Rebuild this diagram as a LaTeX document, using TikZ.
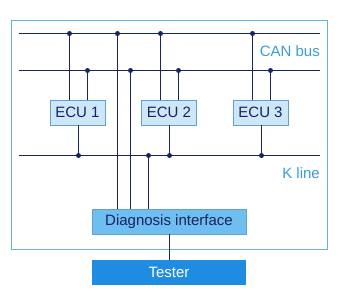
\documentclass[tikz,border=0pt]{standalone}
\usepackage{fontspec}
\setmainfont{Liberation Sans}
\definecolor{navy}{RGB}{25,35,95}
\definecolor{framec}{RGB}{95,180,235}
\definecolor{labc}{RGB}{60,155,215}
\definecolor{ecufill}{RGB}{205,230,248}
\definecolor{ecudraw}{RGB}{100,160,210}
\definecolor{diagfill}{RGB}{110,190,240}
\definecolor{testfill}{RGB}{30,140,225}
\begin{document}
\begin{tikzpicture}[x=1pt,y=-1pt,
  wire/.style={navy,line width=1.4pt},
  dotc/.style={circle,fill=navy,inner sep=0pt,minimum size=5pt},
  ecu/.style={draw=ecudraw,fill=ecufill,line width=0.9pt,minimum width=55pt,minimum height=25pt,inner sep=0pt,font=\fontsize{15}{17}\selectfont,text=navy},
  lab/.style={text=labc,font=\fontsize{15}{17}\selectfont,anchor=east,inner sep=0pt}]
\useasboundingbox (0,0) rectangle (339,304);
\draw[framec,line width=1.5pt] (11.5,20.5) rectangle (327.5,249.5);
% buses
\coordinate (ch0) at (19,33.5); \coordinate (ch1) at (320,33.5);
\coordinate (cl0) at (19,70.5); \coordinate (cl1) at (320,70.5);
\coordinate (k0) at (19,155.5); \coordinate (k1) at (320,155.5);
\draw[wire] (ch0) -- (ch1);
\draw[wire] (cl0) -- (cl1);
\draw[wire] (k0) -- (k1);
\node[lab] (canlab) at (320,51) {CAN bus};
\node[lab] (klab) at (320,173) {K line};
% ECUs
\node[ecu] (e1) at (77.5,112.5) {ECU 1};
\node[ecu] (e2) at (169,112.5) {ECU 2};
\node[ecu] (e3) at (260.5,112.5) {ECU 3};
\node[draw=ecudraw,fill=diagfill,line width=0.9pt,minimum width=154pt,minimum height=25pt,inner sep=0pt,font=\fontsize{15}{17}\selectfont,text=navy] (diag) at (169,221.5) {Diagnosis interface};
\node[fill=testfill,minimum width=154pt,minimum height=25pt,inner sep=0pt,font=\fontsize{15}{17}\selectfont,text=white] (test) at (169,272.5) {Tester};
% dots
\foreach \n/\x/\y in {a1/69.5/33.5,a2/117.5/33.5,a3/160.5/33.5,a4/252.5/33.5,
  b1/87.5/70.5,b2/130.5/70.5,b3/178.5/70.5,b4/270.5/70.5,
  k1d/78.5/155.5,k2d/148.5/155.5,k3d/169.5/155.5,k4d/261.5/155.5}
  \node[dotc] (\n) at (\x,\y) {};
% ECU connections
\draw[wire] (a1) -- (a1 |- e1.north);
\draw[wire] (b1) -- (b1 |- e1.north);
\draw[wire] (a3) -- (a3 |- e2.north);
\draw[wire] (b3) -- (b3 |- e2.north);
\draw[wire] (a4) -- (a4 |- e3.north);
\draw[wire] (b4) -- (b4 |- e3.north);
\draw[wire] (k1d |- e1.south) -- (k1d);
\draw[wire] (k3d |- e2.south) -- (k3d);
\draw[wire] (k4d |- e3.south) -- (k4d);
% diagnosis
\draw[wire] (a2) -- (a2 |- diag.north);
\draw[wire] (b2) -- (b2 |- diag.north);
\draw[wire] (k2d) -- (k2d |- diag.north);
\draw[wire] (k3d |- diag.south) -- (k3d |- test.north);
\end{tikzpicture}
\end{document}
